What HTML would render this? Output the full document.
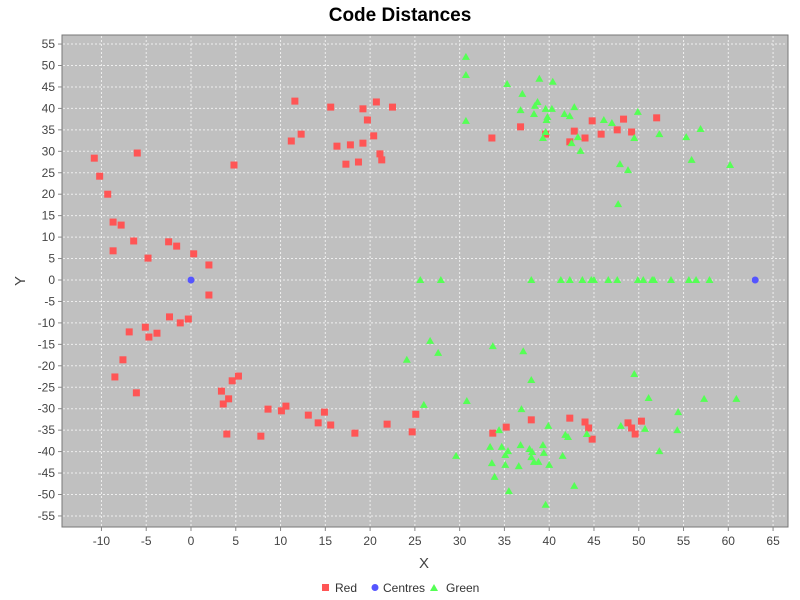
<!DOCTYPE html>
<html><head><meta charset="utf-8"><style>
body{margin:0;background:#fff;font-family:"Liberation Sans",sans-serif;}
svg{display:block}
</style></head><body>
<svg id="chart" width="800" height="600" xmlns="http://www.w3.org/2000/svg">
<text x="400" y="21" text-anchor="middle" font-size="19" font-weight="bold" font-family="Liberation Sans,sans-serif">Code Distances</text>
<rect x="62" y="35" width="726" height="492" fill="#c0c0c0" stroke="#777"/>
<g id="grid"></g><g id="ticks"></g><g id="marks"></g>
<text x="424" y="568" text-anchor="middle" font-size="15" fill="#444">X</text>
<text x="25" y="281" text-anchor="middle" font-size="15" fill="#444" transform="rotate(-90 25 281)">Y</text>
<g font-size="12" fill="#333">
<rect x="322" y="584" width="7" height="7" fill="#ff5555"/>
<text x="335" y="592">Red</text>
<circle cx="375" cy="587.5" r="3.5" fill="#5555ff"/>
<text x="383" y="592">Centres</text>
<polygon points="434,584 438,591 430,591" fill="#55ff55"/>
<text x="446" y="592">Green</text>
</g>
</svg>
<script>
const redX=[-10.8,-10.2,-9.3,-8.7,-7.8,-8.7,-6.4,-6,-4.8,-2.5,-1.6,0.3,2,4.8,11.6,15.6,19.2,20.7,22.5,19.7,20.4,16.3,17.8,19.2,21.1,21.3,17.3,18.7,11.2,12.3,33.6,36.8,39.6,42.8,42.3,44,44.8,45.8,47.6,48.3,49.2,52,2,-6.9,-5.1,-4.7,-3.8,-2.4,-1.2,-0.3,-7.6,-8.5,-6.1,3.4,4.2,3.6,4.6,5.3,8.6,10.1,10.6,13.1,14.2,14.9,15.6,4,7.8,18.3,21.9,25.1,24.7,33.7,35.2,38,42.3,44,44.4,44.8,48.8,49.2,49.6,50.3];
const redY=[28.4,24.2,20,13.5,12.8,6.8,9.1,29.6,5.1,8.9,7.9,6.1,3.5,26.8,41.7,40.3,39.9,41.5,40.3,37.3,33.6,31.2,31.5,31.9,29.4,28,27,27.5,32.4,34,33.1,35.7,34,34.7,32.2,33.1,37.1,34,35,37.5,34.5,37.8,-3.5,-12.1,-11,-13.3,-12.4,-8.6,-10,-9.1,-18.6,-22.6,-26.3,-25.9,-27.7,-28.9,-23.5,-22.4,-30.1,-30.5,-29.4,-31.5,-33.3,-30.8,-33.8,-35.9,-36.4,-35.7,-33.6,-31.3,-35.4,-35.7,-34.3,-32.6,-32.2,-33.1,-34.5,-37.1,-33.3,-34.5,-35.9,-32.9];
const greenX=[30.7,30.7,30.7,35.3,38.9,40.4,37,38.7,38.4,36.8,38.3,39.6,40.3,42.8,41.7,42.3,39.8,39.7,46.1,47,49.9,39.3,39.6,42.5,43.2,43.5,49.5,52.3,55.3,56.9,47.9,48.8,55.9,60.2,47.7,25.6,27.9,38,41.3,42.3,43.7,44.7,45,46.6,47.6,49.9,50.5,51.5,51.7,53.6,55.6,56.4,57.9,24.1,26.7,27.6,26,30.8,33.7,37.1,38,36.9,39.9,34.4,41.8,42.1,44.2,48,50.7,49.5,51.1,54.4,54.3,57.3,60.9,52.3,29.6,33.4,34.7,35.4,35.1,36.8,37.8,38.1,38,39.3,39.4,38.3,38.8,40,41.5,33.6,35.1,36.6,33.9,35.5,42.8,39.6];
const greenY=[52,47.8,37.1,45.7,46.9,46.2,43.4,41.5,40.6,39.6,38.7,39.9,39.9,40.3,38.7,38.2,38,37.3,37.3,36.6,39.2,33.1,34.5,31.9,33.3,30.1,33.1,34,33.3,35.2,27,25.6,28,26.8,17.7,0,0,0,0,0,0,0,0,0,0,0,0,0,0,0,0,0,0,-18.6,-14.2,-17,-29.1,-28.2,-15.4,-16.6,-23.3,-30.1,-34,-35,-36.1,-36.6,-35.9,-34,-34.7,-21.9,-27.5,-30.8,-35,-27.7,-27.7,-39.9,-41,-38.9,-38.9,-39.9,-40.8,-38.5,-39.4,-40.1,-41.3,-38.5,-40.3,-42.4,-42.4,-43.1,-41,-42.7,-43.1,-43.4,-45.9,-49.2,-48,-52.4];
const centreX=[0,63];
const centreY=[0,0];
const xTicks=[-10,-5,0,5,10,15,20,25,30,35,40,45,50,55,60,65];
const yTicks=[55,50,45,40,35,30,25,20,15,10,5,0,-5,-10,-15,-20,-25,-30,-35,-40,-45,-50,-55];
const NS="http://www.w3.org/2000/svg";
function sx(v){return 191+v*8.955;}
function sy(v){return 280-v*4.29;}
function mk(tag,attrs,parent){const e=document.createElementNS(NS,tag);for(const k in attrs)e.setAttribute(k,attrs[k]);parent.appendChild(e);return e;}
const grid=document.getElementById('grid'),ticks=document.getElementById('ticks'),marks=document.getElementById('marks');
xTicks.forEach(t=>{const x=sx(t);
 const g=mk('line',{x1:x,x2:x,y1:36,y2:526,stroke:'#eee','stroke-dasharray':'2,2','stroke-width':1},grid);
 
 
 const tk=mk('line',{x1:x,x2:x,y1:527,y2:531,stroke:'#888'},ticks);
 
 
 const l=mk('text',{x:x,y:545,'text-anchor':'middle','font-size':12,fill:'#444'},ticks);l.textContent=t;
 
 
});
yTicks.forEach(t=>{const y=sy(t);
 const g=mk('line',{x1:63,x2:787,y1:y,y2:y,stroke:'#eee','stroke-dasharray':'2,2','stroke-width':1},grid);
 
 
 const tk=mk('line',{x1:58,x2:62,y1:y,y2:y,stroke:'#888'},ticks);
 
 
 const l=mk('text',{x:55,y:y+4,'text-anchor':'end','font-size':12,fill:'#444'},ticks);l.textContent=t;
 
 
});
redX.forEach((v,i)=>{const x=sx(v),y=sy(redY[i]);
 const r=mk('rect',{x:x-3.5,y:y-3.5,width:7,height:7,fill:'#ff5555'},marks);
 
 
});
greenX.forEach((v,i)=>{const x=sx(v),y=sy(greenY[i]);
 const p=mk('polygon',{points:`${x},${y-4} ${x+4},${y+3} ${x-4},${y+3}`,fill:'#55ff55'},marks);
 
 
});
centreX.forEach((v,i)=>{
 const c=mk('circle',{cx:sx(v),cy:sy(centreY[i]),r:3.5,fill:'#5555ff'},marks);
 
 
});
</script>
</body></html>
